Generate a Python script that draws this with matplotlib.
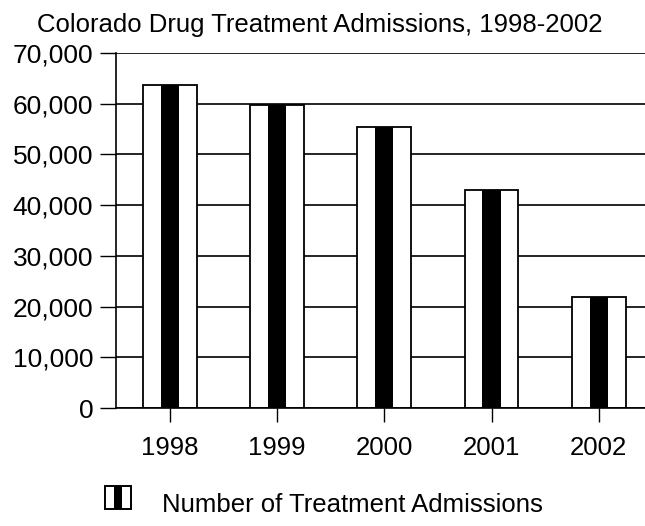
import matplotlib
matplotlib.use('Agg')
import matplotlib.pyplot as plt
from matplotlib.patches import Rectangle
from matplotlib.container import BarContainer
from matplotlib.ticker import FuncFormatter

plt.rcParams['font.family'] = ['Liberation Sans', 'DejaVu Sans']

# data
years = ['1998', '1999', '2000', '2001', '2002']
admissions = [63700, 59700, 55500, 43000, 21900]
y_ticks = [0, 10000, 20000, 30000, 40000, 50000, 60000, 70000]
title = 'Colorado Drug Treatment Admissions, 1998-2002'
series_label = 'Number of Treatment Admissions'


# legend glyph: white box with a black stripe down the middle
class StripeHandler:
    def legend_artist(self, legend, orig_handle, fontsize, handlebox):
        x0, y0 = handlebox.xdescent, handlebox.ydescent
        w, h = handlebox.width, handlebox.height
        tr = handlebox.get_transform()
        box = Rectangle((x0, y0), w, h, fc='white', ec='black', lw=1.4, transform=tr)
        stripe = Rectangle((x0 + w * 0.33, y0), w * 0.34, h, fc='black', ec='none', transform=tr)
        handlebox.add_artist(box)
        handlebox.add_artist(stripe)
        return box


fig = plt.figure(figsize=(6.45, 5.26), dpi=100)
ax = fig.add_axes([0.180, 0.2243, 0.825, 0.6749])

x = range(len(years))
bars = ax.bar(x, admissions, width=0.5, color='white', edgecolor='black', linewidth=1.3, zorder=2)
ax.bar(x, admissions, width=0.17, color='black', edgecolor='none', zorder=3)

ax.set_xlim(-0.5, 4.46)
ax.set_ylim(0, 70000)
ax.set_yticks(y_ticks)
ax.yaxis.set_major_formatter(FuncFormatter(lambda v, p: f'{int(v):,}'))
ax.set_xticks(list(x))
ax.set_xticklabels(years)

ax.grid(axis='y', color='black', linewidth=1.2, zorder=0)
ax.set_axisbelow(True)
for s in ['top', 'right']:
    ax.spines[s].set_visible(False)
ax.spines['left'].set_linewidth(1.2)
ax.spines['bottom'].set_linewidth(1.2)

ax.tick_params(axis='y', length=11.5, width=1.0, pad=5, labelsize=19)
ax.tick_params(axis='x', length=10, width=1.0, pad=10, labelsize=18.5)

fig.text(0.495, 0.952, title, ha='center', va='center', fontsize=18.5)

fig.legend(handles=[bars], labels=[series_label], handler_map={BarContainer: StripeHandler()},
           loc='center left', bbox_to_anchor=(0.163, 0.042), frameon=False,
           borderpad=0, borderaxespad=0, handlelength=1.0, handleheight=1.0,
           handletextpad=1.2, fontsize=18.5)

fig.savefig('out.png', dpi=100)
